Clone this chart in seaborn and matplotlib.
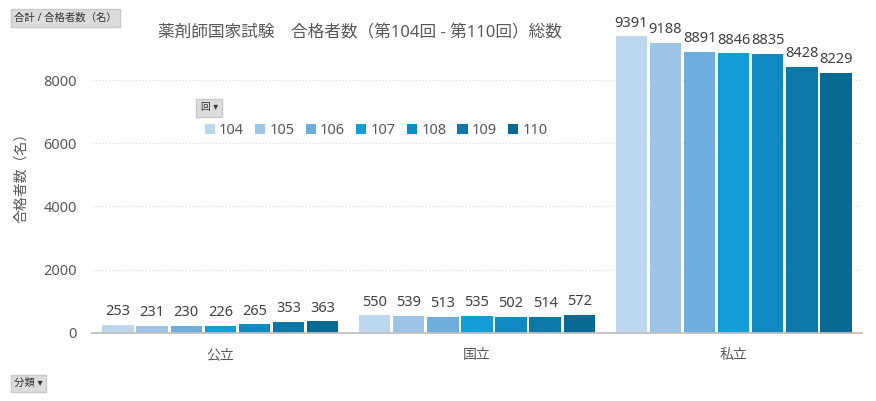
import matplotlib
matplotlib.use("Agg")
import matplotlib.pyplot as plt
import seaborn as sns
import pandas as pd

categories = ["公立", "国立", "私立"]
rounds = ["104", "105", "106", "107", "108", "109", "110"]
koritsu = [253, 231, 230, 226, 265, 353, 363]
kokuritsu = [550, 539, 513, 535, 502, 514, 572]
shiritsu = [9391, 9188, 8891, 8846, 8835, 8428, 8229]
colors = ["#BDD7EE", "#9DC3E6", "#6DAEDC", "#139DD5", "#0F8AC2", "#0B78A7", "#086A92"]
yticks = [0, 2000, 4000, 6000, 8000]

sns.set_theme(style="white")
plt.rcParams["font.family"] = ["Noto Sans", "Noto Sans CJK JP", "DejaVu Sans"]

rows = []
for cat, vals in zip(categories, [koritsu, kokuritsu, shiritsu]):
    for r, v in zip(rounds, vals):
        rows.append({"分類": cat, "回": r, "合格者数": v})
df = pd.DataFrame(rows)

fig = plt.figure(figsize=(8.76, 4.01), dpi=100)
ax = fig.add_axes([0.105, 0.170, 0.879, 0.788])

sns.barplot(data=df, x="分類", y="合格者数", hue="回", hue_order=rounds,
            palette=colors, width=0.93, gap=0.08, ax=ax, legend=True,
            saturation=1, edgecolor="none")

for cont in ax.containers:
    ax.bar_label(cont, padding=4, fontsize=10.5, color="#404040")

ax.set_ylim(0, 10000)
ax.set_yticks(yticks)
ax.set_yticklabels([str(t) for t in yticks], fontsize=10.5, color="#595959")
ax.tick_params(axis="x", labelsize=10, labelcolor="#595959", length=0, pad=11)
ax.tick_params(axis="y", length=0, pad=11)
ax.set_xlabel("")
ax.set_ylabel("合格者数（名）", fontsize=10, color="#595959", labelpad=10)
ax.yaxis.grid(True, linestyle=(0, (1, 2)), color="#d9d9d9", linewidth=0.8)
for s in ["top", "right", "left"]:
    ax.spines[s].set_visible(False)
ax.spines["bottom"].set_color("#bfbfbf")
ax.set_xlim(-0.5, 2.5)

leg = ax.legend(loc="center", bbox_to_anchor=(0.369, 0.639), ncol=7, frameon=False,
                fontsize=10.5, handlelength=0.7, handleheight=0.7, handletextpad=0.3,
                columnspacing=0.75, labelcolor="#595959")

fig.text(0.411, 0.918, "薬剤師国家試験　合格者数（第104回 - 第110回）総数",
         ha="center", va="center", fontsize=12, color="#595959")

btn = dict(boxstyle="square,pad=0.3", facecolor="#dcdcdc", edgecolor="#c8c8c8")
fig.text(0.016, 0.955, "合計 / 合格者数（名）", fontsize=7.5, color="#333333",
         ha="left", va="center", bbox=btn)
fig.text(0.016, 0.044, "分類 ▾", fontsize=7.5, color="#333333",
         ha="left", va="center", bbox=btn)
fig.text(0.229, 0.731, "回 ▾", fontsize=7, color="#333333",
         ha="left", va="center", bbox=dict(boxstyle="square,pad=0.45",
                                           facecolor="#dcdcdc", edgecolor="#c8c8c8"))

fig.savefig("out.png", dpi=100)
